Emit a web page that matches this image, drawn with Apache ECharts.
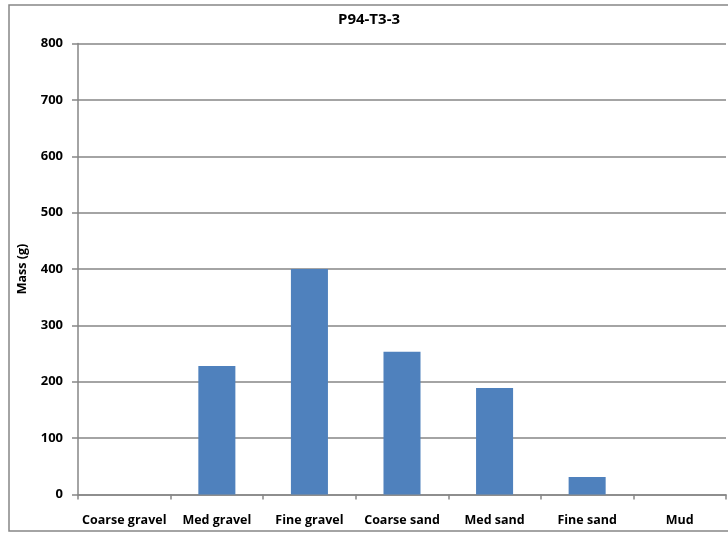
<!DOCTYPE html>
<html>
<head>
<meta charset="utf-8">
<script src="https://cdn.jsdelivr.net/npm/echarts@6/dist/echarts.min.js"></script>
<style>
html,body{margin:0;padding:0;background:#fff;}
#chart{width:728px;height:533px;}
</style>
</head>
<body>
<div id="chart"></div>
<script>
const categories = ['Coarse gravel', 'Med gravel', 'Fine gravel', 'Coarse sand', 'Med sand', 'Fine sand', 'Mud'];
const massValues = [0, 228, 400, 253, 189, 31, 0];
const titleText = 'P94-T3-3';
const yAxisName = 'Mass (g)';

const chart = echarts.init(document.getElementById('chart'), null, {renderer: 'canvas'});
const font = '"Open Sans", "Liberation Sans", sans-serif';
chart.setOption({
  animation: false,
  backgroundColor: '#fff',
  title: {
    text: titleText,
    left: 364, top: 7, textAlign: 'center',
    textStyle: {fontFamily: font, fontSize: 15, fontWeight: 'bold', color: '#000'}
  },
  graphic: [{
    type: 'rect',
    shape: {x: 9, y: 5, width: 730, height: 526},
    style: {fill: 'none', stroke: '#868686', lineWidth: 1.5},
    silent: true
  }],
  grid: {left: 78, right: 2, top: 43.5, bottom: 38.5, containLabel: false},
  xAxis: {
    type: 'category',
    data: categories,
    axisLine: {lineStyle: {color: '#868686', width: 1.5}},
    axisTick: {show: true, alignWithLabel: false, length: 5, lineStyle: {color: '#868686', width: 1.5}},
    axisLabel: {fontFamily: font, fontSize: 12.5, fontWeight: 'bold', color: '#000', margin: 19, interval: 0}
  },
  yAxis: {
    type: 'value',
    min: 0, max: 800, interval: 100,
    name: yAxisName,
    nameLocation: 'middle',
    nameGap: 49,
    nameTextStyle: {fontFamily: font, fontSize: 12.5, fontWeight: 'bold', color: '#000'},
    axisLine: {show: true, lineStyle: {color: '#868686', width: 1.5}},
    axisTick: {show: true, length: 6, lineStyle: {color: '#868686', width: 1.5}},
    axisLabel: {fontFamily: font, fontSize: 13, fontWeight: 'bold', color: '#000', margin: 15},
    splitLine: {show: true, lineStyle: {color: '#868686', width: 1.5}}
  },
  series: [{
    type: 'bar',
    data: massValues,
    barWidth: '40%',
    itemStyle: {color: '#4F81BD'}
  }]
});
</script>
</body>
</html>
